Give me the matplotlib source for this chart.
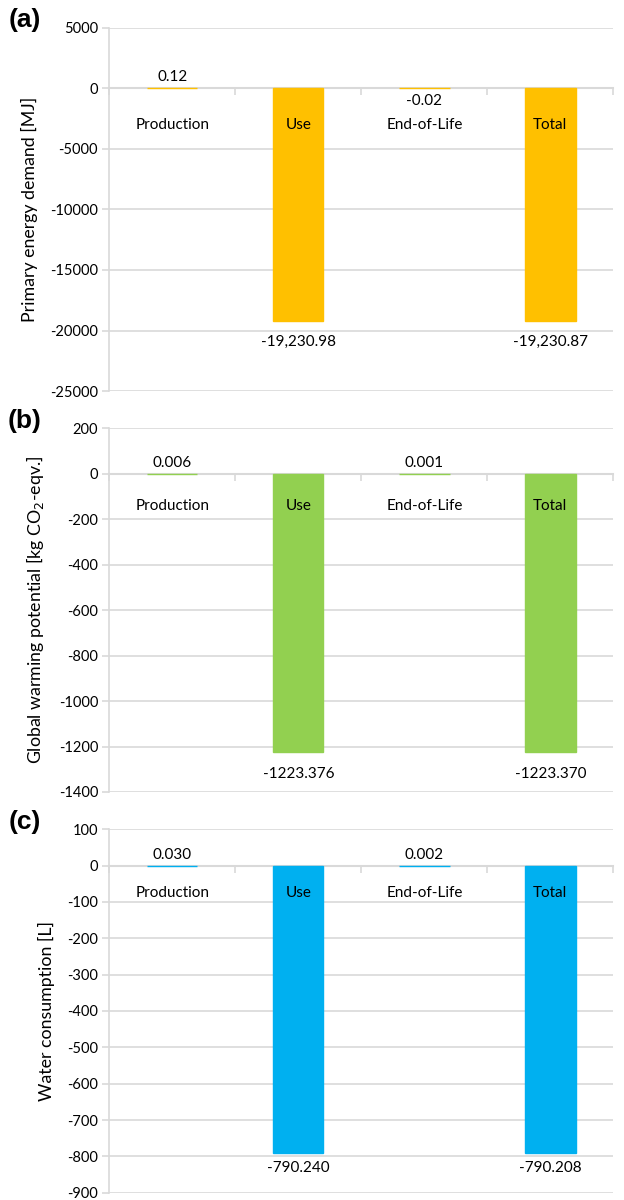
import matplotlib
matplotlib.use('Agg')
import matplotlib.pyplot as plt
import numpy as np

plt.rcParams['font.family'] = ['Lato', 'DejaVu Sans']
plt.rcParams['axes.unicode_minus'] = False

categories = ['Production', 'Use', 'End-of-Life', 'Total']

energy = [0.12, -19230.98, -0.02, -19230.87]
energy_labels = ['0.12', '-19,230.98', '-0.02', '-19,230.87']

gwp = [0.006, -1223.376, 0.001, -1223.370]
gwp_labels = ['0.006', '-1223.376', '0.001', '-1223.370']

water = [0.030, -790.240, 0.002, -790.208]
water_labels = ['0.030', '-790.240', '0.002', '-790.208']

panels = [
    # values, labels, color, ylim, step, ylabel, tag, cat offset, neg offset
    (energy, energy_labels, '#FFC000', (-25000, 5000), 5000,
     'Primary energy demand [MJ]', '(a)', 37, 21),
    (gwp, gwp_labels, '#92D050', (-1400, 200), 200,
     r'Global warming potential [kg CO$_2$-eqv.]', '(b)', 32, 22),
    (water, water_labels, '#00B0F0', (-900, 100), 100,
     'Water consumption [L]', '(c)', 27, 15),
]

grid_c = '#d9d9d9'
fig = plt.figure(figsize=(6.24, 12), dpi=100)
bottoms = [0.674, 0.340, 0.006]

x = np.arange(len(categories))
for (vals, labs, col, ylim, step, ylabel, tag, cat_off, neg_off), b in zip(panels, bottoms):
    ax = fig.add_axes((0.175, b, 0.808, 0.303))
    ax.bar(x, vals, width=0.4, color=col, edgecolor=col, linewidth=1.0, zorder=5)
    ax.set_xlim(-0.5, len(categories) - 0.5)
    ax.set_ylim(*ylim)
    ax.set_yticks(np.arange(ylim[0], ylim[1] + step, step))
    ax.yaxis.grid(True, color=grid_c, linewidth=1.2, zorder=0)
    ax.set_axisbelow(True)
    for s in ['top', 'right']:
        ax.spines[s].set_visible(False)
    ax.spines['left'].set_color(grid_c)
    ax.spines['left'].set_linewidth(1.2)
    ax.spines['bottom'].set_position(('data', 0))
    ax.spines['bottom'].set_color(grid_c)
    ax.spines['bottom'].set_linewidth(1.5)
    ax.spines['bottom'].set_zorder(4)
    ax.set_xticks(np.arange(len(categories) + 1) - 0.5)
    ax.set_xticklabels([])
    ax.tick_params(axis='x', direction='out', length=5, color=grid_c, width=1.2)
    ax.tick_params(axis='y', direction='out', length=5, color=grid_c, width=1.2,
                   labelsize=10.5, pad=3)
    ax.set_ylabel(ylabel, fontsize=12.8, labelpad=9)

    for xi, v, lab, cat in zip(x, vals, labs, categories):
        if v >= 0:
            ax.annotate(lab, (xi, v), xytext=(0, 11), textcoords='offset pixels',
                        ha='center', va='center', fontsize=11)
        elif v > -1:
            ax.annotate(lab, (xi, v), xytext=(0, -13), textcoords='offset pixels',
                        ha='center', va='center', fontsize=11)
        else:
            ax.annotate(lab, (xi, v), xytext=(0, -neg_off), textcoords='offset pixels',
                        ha='center', va='center', fontsize=11)
        ax.annotate(cat, (xi, 0), xytext=(0, -cat_off), textcoords='offset pixels',
                    ha='center', va='center', fontsize=11, zorder=6)

    fig.text(0.04, b + 0.303 + 0.006, tag, family='Liberation Sans',
             fontweight='bold', fontsize=19, ha='center', va='center')

fig.savefig('out.png', dpi=100)
